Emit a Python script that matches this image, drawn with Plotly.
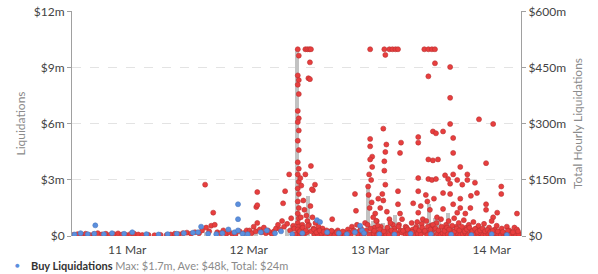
import pandas as pd
import plotly.graph_objects as go

BASE = pd.Timestamp("2020-03-10 00:00")

# Sell liquidations: hours since 10 Mar 00:00, value in $m
sell_hours = [
    13.4, 14.2, 15.0, 15.8, 16.6, 17.4, 18.2, 19.0, 19.8, 20.6, 21.4, 22.2, 23.0, 23.8, 24.6, 25.4,
    26.2, 27.0, 28.2, 29.4, 30.6, 31.8, 32.6, 33.4, 34.2, 35.0, 35.8, 36.6, 37.4, 38.2, 38.8, 39.4,
    39.6, 40.2, 40.6, 41.0, 41.3, 41.8, 42.4, 43.0, 43.6, 44.2, 44.8, 45.4, 46.2, 47.0, 47.6,
    48.2, 48.6, 49.0, 49.4, 49.5, 49.7, 49.7, 49.7, 50.2, 50.6, 51.0, 51.4, 51.8, 52.2, 52.6, 53.0,
    53.4, 53.8, 54.2, 54.6, 54.8, 55.0, 55.2, 55.6, 56.0, 56.2, 56.4, 56.8, 57.0,
    57.7, 57.9, 57.7, 57.9, 57.7, 57.9, 57.7, 57.9, 57.7, 57.9, 57.7, 57.9, 57.7, 57.9, 57.7, 57.9,
    57.7, 57.9, 57.7, 57.9, 57.7, 57.9, 57.7, 57.9, 57.7, 57.9, 58.0, 58.2, 58.4, 58.3, 58.6, 58.5,
    59.2, 59.6, 60.0, 60.3, 60.1, 59.8, 60.1, 60.3, 61.1, 60.7, 60.5, 59.2, 58.8, 59.0, 59.4, 59.6,
    59.9, 60.2, 60.6, 60.8, 61.2, 61.5, 61.8, 62.2,
    62.6, 63.0, 63.4, 63.8, 64.2, 64.5, 64.8, 65.2, 65.6, 66.0, 66.4, 66.8, 67.2, 67.6, 68.0, 68.4,
    68.8, 69.0, 69.2, 69.4, 69.8, 70.2, 70.6, 71.0,
    57.2, 58.4, 58.9, 59.5, 61.0, 61.6, 62.4, 63.2, 64.0, 65.0, 66.2, 67.0, 68.2, 69.6, 70.4, 70.8,
    72.0, 74.8, 75.8, 76.4, 77.0, 77.5, 82.7, 83.5, 84.2, 84.8, 75.0, 84.8, 83.5,
    74.6, 72.0, 72.0, 75.2, 78.1, 81.5, 81.5, 84.4, 85.0, 72.4, 72.0, 77.9, 75.0, 72.4, 74.8, 74.8,
    83.5, 84.4, 85.4, 81.5, 83.5, 84.2, 85.0, 75.0, 71.6, 77.5, 74.4, 73.6, 81.5, 83.3, 80.5, 77.5,
    77.9, 81.5, 81.3, 73.0,
    71.8, 72.2, 71.7, 72.3, 71.9, 72.6, 73.3, 74.0, 74.6, 75.3, 75.8, 76.5, 78.3, 79.0, 79.6, 80.2,
    82.0, 82.4, 83.0, 83.8, 84.6, 85.2,
    87.8, 87.8, 93.5, 96.3, 87.8, 86.4, 88.4, 88.4, 89.8, 94.9, 88.4, 91.2, 86.8, 87.4, 87.8, 89.2,
    91.2, 92.7, 90.2, 97.9, 97.9, 86.4, 87.8, 93.1, 91.9, 89.8, 94.9, 86.4, 88.4, 89.8, 91.8, 94.9,
    97.1, 101.0, 89.2, 90.8, 96.3,
    71.2, 71.5, 72.5, 72.9, 73.2, 73.6, 74.1, 74.4, 75.5, 76.0, 76.3, 76.8, 77.2, 77.7, 78.0, 78.6,
    79.2, 79.8, 80.4, 80.8, 81.1, 81.8, 82.2, 82.6, 83.1, 83.6, 84.0, 84.5, 85.1, 85.6, 86.0, 86.6,
    87.0, 87.5, 88.0, 88.6, 89.0, 89.5, 90.0, 90.5, 91.0, 91.5, 92.0, 92.4, 93.0, 93.4, 94.0, 94.5,
    95.0, 95.5, 96.0, 96.6, 97.0, 97.5, 98.0, 98.5, 99.0, 99.5, 100.0, 100.5, 101.0, 101.5,
    71.9, 72.7, 73.4, 74.2, 75.1, 75.7, 76.6, 77.4, 78.3, 79.0, 79.5, 80.0, 80.6, 81.4, 82.0, 82.9,
    83.3, 84.3, 85.3, 85.9, 86.3, 86.8, 87.3, 87.9, 88.3, 88.8, 89.3, 89.8, 90.3, 90.8, 91.3, 91.8,
    92.3, 92.8, 93.3, 93.8, 94.3, 94.8, 95.3, 95.8, 96.3, 96.8, 97.3, 97.8, 98.3, 98.8, 99.3, 99.8,
    100.3, 100.8, 101.3,
    58.1, 58.7, 59.3, 59.7, 60.4, 60.9, 61.4, 62.0, 62.8, 63.6, 64.4, 65.4, 66.6, 67.8, 68.6, 70.0,
    72.1, 72.8, 73.5, 73.9, 74.7, 75.4, 76.2, 76.9, 77.6, 78.5, 79.4, 80.3, 81.0, 81.7, 82.3, 82.8,
    83.4, 83.9, 84.4, 84.9, 85.5, 86.1, 86.7, 87.2, 87.6, 88.2, 88.7, 89.1, 89.6, 90.1, 90.7, 91.1,
    91.6, 92.2, 92.7, 93.2, 93.7, 94.2, 94.7, 95.2, 95.7, 96.2, 97.2, 98.2, 99.2, 100.2, 101.2,
]
sell_values = [
    0.06, 0.10, 0.08, 0.12, 0.05, 0.10, 0.15, 0.08, 0.12, 0.06, 0.10, 0.14, 0.08, 0.06, 0.10, 0.12,
    0.08, 0.05, 0.06, 0.04, 0.06, 0.05, 0.08, 0.12, 0.10, 0.15, 0.18, 0.12, 0.20, 0.15, 0.30, 2.75,
    0.45, 0.25, 0.55, 1.25, 0.60, 0.20, 0.15, 0.30, 0.12, 0.20, 0.10, 0.08, 0.25, 0.15, 0.30,
    0.30, 0.15, 0.50, 0.25, 1.55, 2.35, 1.65, 0.70, 0.35, 0.20, 0.45, 0.15, 0.30, 0.20, 0.10, 0.25,
    0.40, 0.60, 0.35, 0.80, 1.75, 0.50, 2.40, 0.65, 3.30, 0.30, 0.95, 0.55, 0.40,
    10.0, 9.66, 8.60, 8.35, 8.10, 7.60, 6.70, 6.30, 6.10, 5.65, 5.10, 4.60, 3.95, 3.60, 3.30, 2.90,
    2.55, 2.25, 1.85, 1.50, 1.20, 0.95, 0.70, 0.50, 0.35, 0.20, 0.10, 3.10, 2.70, 1.00, 0.60, 0.40,
    10.0, 10.0, 10.0, 10.0, 9.30, 8.45, 8.40, 3.75, 2.75, 2.45, 2.50, 3.30, 1.90, 1.40, 1.10, 0.80,
    0.60, 1.60, 1.00, 0.40, 0.70, 0.30, 0.50, 0.20,
    0.40, 0.15, 0.30, 0.10, 0.25, 0.90, 0.20, 0.10, 0.30, 0.15, 0.05, 0.20, 0.10, 0.35, 0.15, 0.50,
    0.30, 2.25, 1.35, 0.60, 0.20, 0.40, 0.15, 0.70,
    0.10, 0.15, 0.05, 0.20, 0.10, 0.08, 0.12, 0.05, 0.10, 0.06, 0.12, 0.05, 0.08, 0.10, 0.06, 0.12,
    10.0, 10.0, 10.0, 10.0, 10.0, 10.0, 10.0, 10.0, 10.0, 10.0, 9.70, 9.25, 8.55,
    5.75, 5.20, 4.80, 4.90, 5.00, 5.30, 5.00, 5.60, 5.50, 4.25, 4.10, 4.45, 4.50, 3.70, 4.00, 3.50,
    4.10, 4.05, 4.10, 3.10, 3.05, 3.00, 3.05, 2.75, 2.65, 2.40, 2.25, 2.00, 2.40, 1.85, 1.75, 1.70,
    1.20, 1.25, 0.75, 1.20,
    3.30, 3.00, 2.20, 1.80, 1.50, 1.00, 0.80, 1.50, 1.90, 1.30, 0.90, 0.60, 0.90, 0.50, 0.30, 0.70,
    1.60, 0.90, 2.20, 1.40, 2.00, 1.00,
    9.05, 7.40, 6.25, 6.00, 6.00, 5.60, 5.25, 4.45, 3.70, 3.90, 3.30, 3.30, 3.25, 3.05, 2.80, 3.00,
    3.00, 2.85, 2.75, 2.65, 2.25, 2.30, 2.25, 2.30, 2.15, 2.00, 1.70, 1.45, 1.70, 1.50, 1.50, 1.40,
    1.25, 1.20, 1.25, 1.20, 1.00,
    0.30, 0.60, 0.15, 0.45, 0.80, 0.20, 0.50, 0.10, 0.35, 0.70, 0.20, 0.40, 0.15, 0.60, 0.30, 0.20,
    0.45, 0.10, 0.35, 0.25, 0.50, 0.15, 0.65, 0.30, 0.80, 0.20, 0.55, 0.35, 0.70, 0.25, 0.90, 0.40,
    0.60, 0.80, 0.30, 0.95, 0.50, 0.70, 0.35, 0.85, 0.45, 0.60, 0.25, 0.75, 0.40, 0.55, 0.30, 0.65,
    0.20, 0.45, 0.80, 0.35, 0.55, 0.25, 0.40, 0.15, 0.50, 0.30, 0.20, 0.45, 0.35, 0.10,
    0.08, 0.12, 0.05, 0.15, 0.10, 0.06, 0.12, 0.08, 0.18, 0.05, 0.10, 0.14, 0.06, 0.12, 0.08, 0.16,
    0.05, 0.10, 0.12, 0.06, 0.15, 0.08, 0.10, 0.05, 0.14, 0.08, 0.12, 0.06, 0.10, 0.15, 0.05, 0.08,
    0.12, 0.06, 0.10, 0.14, 0.05, 0.08, 0.12, 0.10, 0.06, 0.15, 0.08, 0.05, 0.12, 0.10, 0.06, 0.08,
    0.12, 0.05, 0.10,
    0.25, 0.45, 0.30, 0.55, 0.25, 0.35, 0.20, 0.30, 0.22, 0.18, 0.28, 0.20, 0.24, 0.18, 0.26, 0.30,
    0.40, 0.28, 0.55, 0.35, 0.25, 0.45, 0.30, 0.25, 0.50, 0.28, 0.35, 0.22, 0.40, 0.30, 0.45, 0.28,
    0.50, 0.35, 0.60, 0.40, 0.30, 0.50, 0.28, 0.45, 0.35, 0.55, 0.25, 0.40, 0.30, 0.50, 0.25, 0.35,
    0.45, 0.28, 0.38, 0.22, 0.30, 0.40, 0.25, 0.32, 0.22, 0.28, 0.25, 0.22, 0.28, 0.20, 0.25,
]

# Buy liquidations
buy_hours = [
    13.6, 14.8, 16.2, 17.7, 17.5, 19.4, 21.0, 23.4, 25.0, 27.8, 30.2, 32.0, 33.8, 35.2, 37.0, 38.6,
    38.0, 40.0, 41.6, 42.8, 44.0, 45.2, 45.9, 45.9, 45.9, 46.8, 47.8, 50.4, 51.6, 53.2, 54.4, 56.6,
    58.6, 61.5, 62.1, 63.5, 65.8, 67.4, 69.0, 70.0, 70.4, 70.8, 73.8, 76.8, 80.0, 84.0, 88.0, 92.0,
    96.0, 99.0,
]
buy_values = [
    0.08, 0.15, 0.10, 0.57, 0.12, 0.10, 0.15, 0.12, 0.20, 0.10, 0.08, 0.10, 0.12, 0.15, 0.18, 0.50,
    0.20, 0.12, 0.10, 0.15, 0.35, 0.20, 1.70, 0.90, 0.30, 0.12, 0.10, 0.20, 0.30, 0.15, 0.25, 0.10,
    0.15, 0.85, 0.75, 0.20, 0.15, 0.10, 0.20, 0.55, 0.30, 0.15, 0.10, 0.08, 0.12, 0.10, 0.08, 0.05,
    0.10, 0.06,
]

# Total hourly liquidations ($m)
bar_hours = [39.5, 41.5, 49.5, 55.5, 56.5, 57.6, 59.8, 60.8, 64.5, 69.2, 71.6, 72.6, 74.6, 76.0,
             77.0, 81.4, 83.7, 84.9, 85.6, 87.3, 88.5, 91.5, 94.8, 97.5]
bar_totals = [12, 8, 15, 20, 30, 500, 107, 25, 10, 20, 137, 40, 35, 49,
              55, 30, 86, 47, 47, 62, 30, 20, 25, 15]

left_ticks = [0, 3, 6, 9, 12]
left_labels = ["$0", "$3m", "$6m", "$9m", "$12m"]
right_ticks = [0, 150, 300, 450, 600]
right_labels = ["$0", "$150m", "$300m", "$450m", "$600m"]
x_range_hours = [13.1, 101.8]

legend_name = "Buy Liquidations"
legend_stats = "Max: $1.7m, Ave: $48k, Total: $24m"


def to_time(hours):
    return [BASE + pd.Timedelta(hours=h) for h in hours]


fig = go.Figure()

fig.add_trace(go.Bar(
    x=to_time(bar_hours), y=bar_totals, yaxis="y",
    width=0.8 * 3600 * 1000, marker=dict(color="#c2c2c2", line=dict(width=0)),
    showlegend=False, name="Total Hourly Liquidations",
))
fig.add_trace(go.Scatter(
    x=to_time(sell_hours), y=sell_values, yaxis="y2", mode="markers",
    marker=dict(size=5, color="#e83e3e", line=dict(width=0.6, color="#b83232")),
    showlegend=False, name="Sell Liquidations",
))
fig.add_trace(go.Scatter(
    x=to_time(buy_hours), y=buy_values, yaxis="y2", mode="markers",
    marker=dict(size=5, color="#5b8fde", line=dict(width=0.6, color="#4a78c0")),
    showlegend=False, name=legend_name,
))

# plot area: x 72..521 px, y 4..236 px
L, R, T, B = 72, 521, 4, 236
W, H = R - L, B - T


def px_x(px):
    return (px - L) / W


def px_y(py):
    return (B - py) / H


font_family = "Lato, 'Open Sans', sans-serif"
fig.update_layout(
    width=598, height=274,
    margin=dict(l=L, r=598 - R, t=T, b=274 - B),
    paper_bgcolor="white", plot_bgcolor="white",
    font=dict(family=font_family, size=12, color="#555"),
    bargap=0,
    showlegend=False,
    xaxis=dict(
        type="date",
        range=to_time(x_range_hours),
        dtick=86400000, tick0="2020-03-11", tickformat="%-d %b",
        showgrid=False, zeroline=False, showline=False,
        ticks="", ticklabelstandoff=5, tickfont=dict(size=12, color="#444"),
    ),
    yaxis=dict(
        side="right", range=[0, 602.5],
        tickvals=right_ticks, ticktext=right_labels, ticklabeloverflow="allow",
        showgrid=True, gridcolor="#e3e3e3", griddash="dash", gridwidth=1,
        zeroline=False, showline=True, linecolor="#a0a0a0", linewidth=1,
        ticks="outside", ticklen=4, tickcolor="#a0a0a0",
        tickfont=dict(size=12, color="#444"),
        title=dict(text="Total Hourly Liquidations", standoff=8,
                   font=dict(size=12, color="#8a8a8a")),
    ),
    yaxis2=dict(
        side="left", overlaying="y", range=[0, 12.05],
        tickvals=left_ticks, ticktext=left_labels, ticklabeloverflow="allow",
        showgrid=False, zeroline=False, showline=True, linecolor="#a0a0a0", linewidth=1,
        ticks="outside", ticklen=4, tickcolor="#a0a0a0",
        tickfont=dict(size=12, color="#444"),
        title=dict(text="Liquidations", standoff=5,
                   font=dict(size=12, color="#8a8a8a")),
    ),
    annotations=[
        dict(xref="paper", yref="paper", x=px_x(17), y=px_y(266), xanchor="center",
             yanchor="middle", showarrow=False, text="●",
             font=dict(size=8, color="#5b8fde")),
        dict(xref="paper", yref="paper", x=px_x(29), y=px_y(266), xanchor="left",
             yanchor="middle", showarrow=False,
             text="<b>" + legend_name + "</b> <span style='color:#8a8a8a'>" + legend_stats + "</span>",
             font=dict(size=11, color="#333")),
    ],
)

fig.write_html("out.html")
